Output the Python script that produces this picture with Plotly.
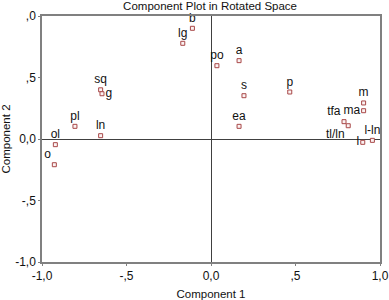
import plotly.graph_objects as go

labels = ["b", "lg", "sq", "g", "pl", "ln", "ol", "o", "po", "a", "s", "p", "ea",
          "m", "ma", "tfa", "tl/ln", "l", "l-ln"]
comp1 = [-0.11, -0.167, -0.653, -0.645, -0.805, -0.653, -0.921, -0.927, 0.035, 0.166,
         0.195, 0.466, 0.166, 0.903, 0.903, 0.787, 0.812, 0.898, 0.955]
comp2 = [0.90, 0.778, 0.40, 0.368, 0.103, 0.027, -0.046, -0.209, 0.596, 0.637,
         0.352, 0.382, 0.103, 0.293, 0.23, 0.141, 0.108, -0.027, -0.011]
text_pos = ["top center", "top center", "top center", "middle right", "top center",
            "top center", "top center", "top left", "top center", "top center",
            "top center", "top center", "top center", "top center", "middle left",
            "top left", "bottom left", "middle left", "top center"]

tick_vals = [-1.0, -0.5, 0.0, 0.5, 1.0]
x_tick_text = ["-1,0", "-,5", "0,0", ",5", "1,0"]
y_tick_text = ["-1,0", "-,5", "0,0", ",5", ",0"]

FONT = "Arial, Liberation Sans"

fig = go.Figure()
fig.add_trace(go.Scatter(
    x=comp1, y=comp2, mode="markers+text", text=labels, textposition=text_pos,
    textfont=dict(family=FONT, size=12, color="#111111"),
    marker=dict(symbol="square", size=4, color="#fbf2f2",
                line=dict(color="#a84848", width=1)),
    cliponaxis=False, showlegend=False,
))

axis_common = dict(
    range=[-1, 1], tickvals=tick_vals, showgrid=False, automargin=False,
    zeroline=True, zerolinecolor="#404040", zerolinewidth=1,
    showline=True, linecolor="#808080", linewidth=1.5, mirror=True,
    ticks="outside", ticklen=2, tickcolor="#808080",
    tickfont=dict(family=FONT, size=12, color="#111111"),
)

fig.update_layout(
    width=389, height=300,
    margin=dict(l=42, r=9, t=16, b=38),
    paper_bgcolor="white", plot_bgcolor="white",
    title=dict(text="Component Plot in Rotated Space", x=0.54, xanchor="center",
               y=0.979, yanchor="middle", automargin=False,
               font=dict(family=FONT, size=11.5, color="#111111")),
    xaxis=dict(axis_common, ticktext=x_tick_text,
               title=dict(text="Component 1", standoff=8,
                          font=dict(family=FONT, size=11.5, color="#111111"))),
    yaxis=dict(axis_common, ticktext=y_tick_text,
               title=dict(text="Component 2", standoff=12,
                          font=dict(family=FONT, size=11.5, color="#111111"))),
)

fig.write_html("out.html", config={"displayModeBar": False},
               post_script="document.body.style.margin='0';")
